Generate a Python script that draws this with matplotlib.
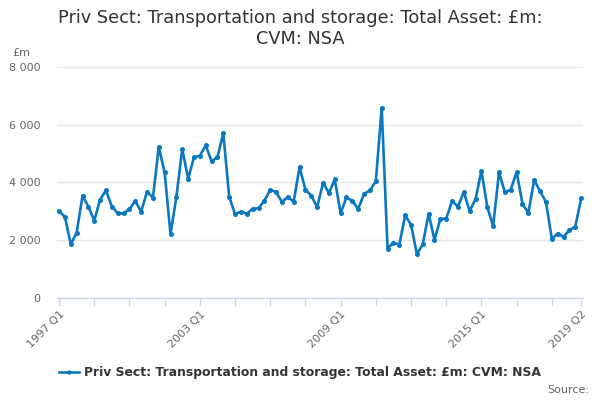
import matplotlib
matplotlib.use("Agg")
import matplotlib.pyplot as plt
from matplotlib.ticker import FuncFormatter

years = list(range(1997, 2020))
quarters = [f"{y} Q{q}" for y in range(1997, 2020) for q in range(1, 5)][:90]

values = [
    3000, 2800, 1850, 2250,
    3530, 3160, 2670, 3400,
    3720, 3160, 2930, 2920,
    3070, 3350, 2980, 3680,
    3460, 5230, 4340, 2200,
    3490, 5160, 4120, 4870,
    4920, 5280, 4730, 4870,
    5700, 3500, 2900, 2980,
    2910, 3080, 3100, 3360,
    3740, 3660, 3320, 3490,
    3330, 4530, 3740, 3540,
    3130, 3980, 3630, 4100,
    2930, 3480, 3350, 3080,
    3600, 3720, 4040, 6580,
    1700, 1910, 1830, 2850,
    2530, 1510, 1850, 2910,
    2000, 2730, 2740, 3350,
    3160, 3660, 3000, 3420,
    4400, 3140, 2480, 4350,
    3650, 3740, 4360, 3250,
    2940, 4080, 3690, 3320,
    2040, 2220, 2110, 2340,
    2460, 3440,
]

title = "Priv Sect: Transportation and storage: Total Asset: £m:\nCVM: NSA"
series_name = "Priv Sect: Transportation and storage: Total Asset: £m: CVM: NSA"
label_idx = [0, 24, 48, 72, 89]
tick_idx = list(range(0, 90, 6)) + [89]
yticks = [0, 2000, 4000, 6000, 8000]

plt.rcParams['font.family'] = ['DejaVu Sans']
fig = plt.figure(figsize=(6, 4), dpi=100)
ax = fig.add_axes([0.095, 0.256, 0.877, 0.5765])

x = list(range(len(values)))
line, = ax.plot(x, values, color="#0a78c1", lw=1.9, marker="o", ms=2.6,
                label=series_name, zorder=3)

ax.set_xlim(-0.35, 89.35)
ax.set_ylim(0, 8000)
ax.set_yticks(yticks)
ax.yaxis.set_major_formatter(FuncFormatter(lambda v, p: f"{int(v):,}".replace(",", " ")))
ax.grid(axis="y", color="#e6e6e6", lw=1)
ax.set_axisbelow(True)

ax.set_xticks(tick_idx)
ax.set_xticklabels([quarters[i] if i in label_idx else "" for i in tick_idx],
                   rotation=45, ha="right", rotation_mode="anchor",
                   fontsize=8, color="#666666")
ax.tick_params(axis="x", length=6, color="#ccd6eb", width=1, pad=2)
ax.tick_params(axis="y", length=0, labelsize=8, labelcolor="#666666", pad=12)

for s in ["top", "right", "left"]:
    ax.spines[s].set_visible(False)
ax.spines["bottom"].set_color("#ccd6eb")
ax.spines["bottom"].set_linewidth(1)

fig.text(0.5, 0.978, title, ha="center", va="top", fontsize=12.8,
         color="#333333", linespacing=1.25)
fig.text(0.02, 0.868, "£m", fontsize=8, color="#666666", va="center")

leg = fig.legend(handles=[line], loc="center", bbox_to_anchor=(0.5, 0.068),
                 frameon=False, fontsize=8.9, handlelength=1.6, handletextpad=0.4,
                 markerscale=0.8)
for t in leg.get_texts():
    t.set_fontweight("bold")
    t.set_color("#333333")

fig.text(0.982, 0.025, "Source:", ha="right", va="center", fontsize=8, color="#666666")

fig.savefig("out.png", dpi=100)
